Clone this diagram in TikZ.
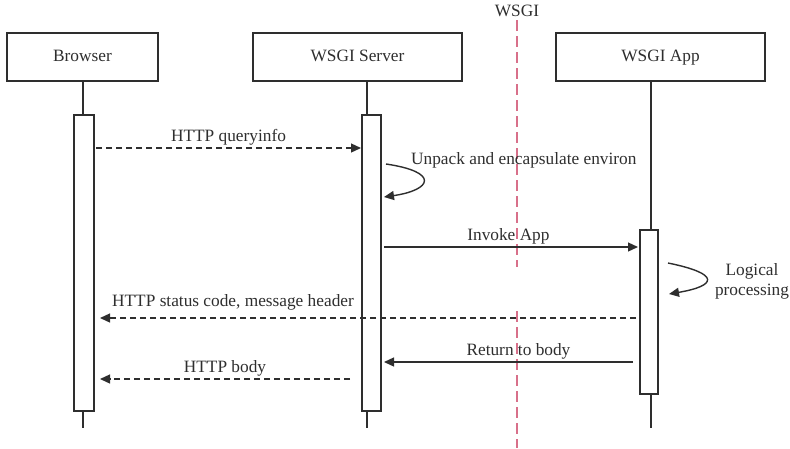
\documentclass[tikz,border=0pt]{standalone}
\usepackage{fontspec}
\setmainfont{Liberation Serif}
\usetikzlibrary{arrows.meta}
\definecolor{ink}{HTML}{2E2E2E}
\definecolor{iface}{HTML}{D8708A}
\begin{document}
\begin{tikzpicture}[x=1pt,y=-1pt,
  every node/.style={font=\fontsize{17.3}{20}\selectfont, text=ink},
  actor/.style={draw=ink, line width=1.5pt, minimum height=48pt, inner sep=0pt,
    text height=12pt, text depth=4pt},
  life/.style={draw=ink, line width=1.4pt},
  bar/.style={draw=ink, line width=1.4pt, fill=white},
  msg/.style={draw=ink, line width=1.3pt, -{Triangle[length=10pt,width=9pt]}},
  reply/.style={msg, dash pattern=on 6pt off 4pt},
  selfloop/.style={draw=ink, line width=1.4pt, -{Triangle[length=10pt,width=9pt]}},
  lbl/.style={inner sep=1pt}]
\useasboundingbox (0,0) rectangle (790,448);

% participants
\node[actor, minimum width=151pt] (browser) at (82.5,57) {Browser};
\node[actor, minimum width=209pt] (server) at (357.5,57) {WSGI Server};
\node[actor, minimum width=209pt] (app) at (660.5,57) {WSGI App};

% WSGI interface boundary
\node[lbl] (wsgi) at (517,11) {WSGI};
\coordinate (w1) at (517,20);
\coordinate (w2) at (517,267);
\coordinate (w3) at (517,311);
\coordinate (w4) at (517,448);
\draw[iface, line width=2.6pt, dash pattern=on 11pt off 5pt] (w1) -- (w2);
\draw[iface, line width=2.6pt, dash pattern=on 11pt off 5pt] (w3) -- (w4);

% lifelines
\coordinate (bl) at (83,428);
\coordinate (sl) at (367,428);
\coordinate (al) at (651,428);
\draw[life] (83,81) -- (bl);
\draw[life] (367,81) -- (sl);
\draw[life] (651,81) -- (al);

% activation bars
\draw[bar] (74,115) rectangle (94,411);
\draw[bar] (362,115) rectangle (381,411);
\draw[bar] (640,230) rectangle (658,394);

% messages
\coordinate (m1a) at (96,148);  \coordinate (m1b) at (361,148);
\draw[reply] (m1a) -- node[lbl, above=1pt] (q) {HTTP queryinfo} (m1b);

\coordinate (s1a) at (386,164); \coordinate (s1b) at (384,197);
\draw[selfloop] (s1a) .. controls (440,172) and (432,190) .. (s1b);
\node[lbl, anchor=west] (unpack) at (410,160) {Unpack and encapsulate environ};

\coordinate (m2a) at (384,247); \coordinate (m2b) at (638,247);
\draw[msg] (m2a) -- node[lbl, above=1pt, pos=0.49] (inv) {Invoke App} (m2b);

\coordinate (s2a) at (668,263); \coordinate (s2b) at (669,294);
\draw[selfloop] (s2a) .. controls (722,274) and (716,286) .. (s2b);
\node[lbl, align=center] (logic) at (752,281) {Logical\\processing};

\coordinate (m3a) at (636,318); \coordinate (m3b) at (100,318);
\draw[reply] (m3a) -- (m3b);
\node[lbl] (hdr) at (233,302) {HTTP status code, message header};

\coordinate (m4a) at (633,362); \coordinate (m4b) at (384,362);
\draw[msg] (m4a) -- node[lbl, above=1pt, pos=0.46] (ret) {Return to body} (m4b);

\coordinate (m5a) at (350,379); \coordinate (m5b) at (100,379);
\draw[reply] (m5a) -- node[lbl, above=1pt] (body) {HTTP body} (m5b);
\end{tikzpicture}
\end{document}
